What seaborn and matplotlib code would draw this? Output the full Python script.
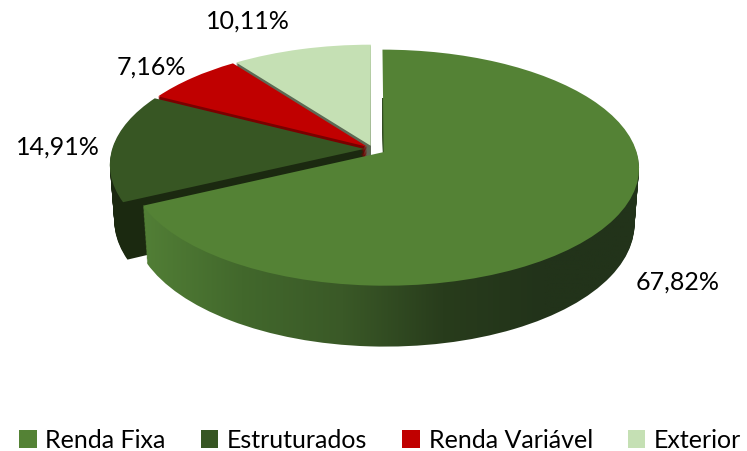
import numpy as np
import matplotlib
matplotlib.use("Agg")
import matplotlib.pyplot as plt
import seaborn as sns
from matplotlib.colors import LinearSegmentedColormap
from matplotlib.transforms import Transform

sns.set_theme(style="white")
plt.rcParams['font.family'] = ['Lato', 'DejaVu Sans']
plt.rcParams['text.color'] = 'black'

# dados do grafico
categorias = ["Renda Fixa", "Estruturados", "Renda Variável", "Exterior"]
percentuais = [67.82, 14.91, 7.16, 10.11]
rotulos = ["67,82%", "14,91%", "7,16%", "10,11%"]

# estilo
cores_topo = ["#548235", "#375623", "#C00000", "#C5E0B4"]
cores_lado = ["#23351a", "#1b2910", "#7a0000", "#5d6a55"]
explode = [0.05, 0.035, 0.03, 0.03]
pos_rotulos = [(1.21, -0.528), (-1.25, 0.008), (-0.881, 0.325), (-0.496, 0.508)]

# camera (perspectiva simples) e altura da pizza
SEN, COS, DIST = 0.457, 0.889, 6.75
altura = 0.25
camadas = 45
cx, cy, S = 373, 149, 252   # centro e escala em pixels


class Perspectiva(Transform):
    """plano da pizza (x, profundidade) na altura z -> tela"""
    input_dims = 2
    output_dims = 2

    def __init__(self, z=0.0):
        super().__init__()
        self.z = z

    def transform_non_affine(self, values):
        values = np.asarray(values, dtype=float)
        x, y = values[:, 0], values[:, 1]
        prof = DIST + y * COS - self.z * SEN
        return np.column_stack([x * DIST / prof,
                                (y * SEN + self.z * COS) * DIST / prof])


fig = plt.figure(figsize=(7.47, 4.51), dpi=100)
ax = fig.add_axes([0, 0, 1, 1])

grad = np.linspace(0, 1, 256).reshape(1, -1)
cmap_rf = LinearSegmentedColormap.from_list(
    "rf", ["#527f36", "#42682c", "#3a5927", "#283c1c", "#22331a", "#22331a"])


def pizza(cores, z):
    w, _ = ax.pie(percentuais, explode=explode, colors=cores, startangle=90,
                  counterclock=False, radius=1, wedgeprops=dict(linewidth=0))
    tr = Perspectiva(z) + ax.transData
    for p in w:
        p.set_transform(tr)
    return w


niveis = np.linspace(-altura, 0, camadas, endpoint=False)

# laterais das fatias de tras
for z in niveis:
    pizza(["none"] + cores_lado[1:], z)

# lateral da fatia da frente com degrade horizontal
for z in niveis:
    w = pizza([cores_lado[0], "none", "none", "none"], z)
    w[0].set_facecolor("none")
    ax.imshow(grad, extent=(-0.92, 1.08, -1.0, 0.2), cmap=cmap_rf,
              aspect="auto", clip_path=w[0], zorder=1, interpolation="bilinear")

# topo
topo = pizza(cores_topo, 0.0)

for (x, y), txt in zip(pos_rotulos, rotulos):
    ax.text(x, y, txt, ha="center", va="center", fontsize=18, color="black")

ax.legend(topo, categorias, loc="center", bbox_to_anchor=(0.509, 11 / 451),
          ncol=4, frameon=False, fontsize=18, handlelength=0.7,
          handleheight=0.7, handletextpad=0.35, columnspacing=1.4,
          borderaxespad=0, borderpad=0, labelcolor="black")

ax.set_xlim(-cx / S, (747 - cx) / S)
ax.set_ylim((cy - 451) / S, cy / S)
ax.set_aspect("auto")
ax.axis("off")

fig.savefig("out.png", dpi=100)
